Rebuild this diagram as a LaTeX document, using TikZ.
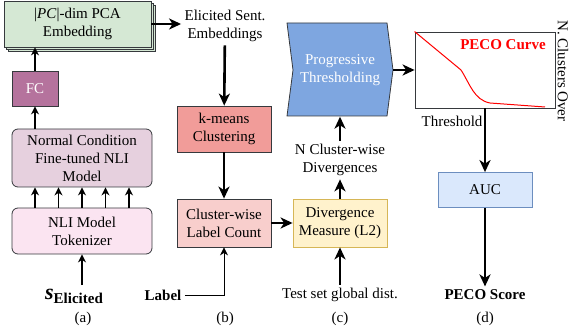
\documentclass[tikz,border=0pt]{standalone}
\usepackage{fontspec}
\setmainfont{Liberation Serif}
\usetikzlibrary{arrows.meta}

\definecolor{boxline}{HTML}{36393D}
\definecolor{pcagreen}{HTML}{D5E8D4}
\definecolor{fcpurple}{HTML}{B5739D}
\definecolor{nlipurple}{HTML}{E6D0DE}
\definecolor{tokpink}{HTML}{FBE4F1}
\definecolor{kmred}{HTML}{F19C99}
\definecolor{clwred}{HTML}{F8CECC}
\definecolor{divyellow}{HTML}{FFF2CC}
\definecolor{divline}{HTML}{D6B656}
\definecolor{progblue}{HTML}{7EA6E0}
\definecolor{aucblue}{HTML}{DAE8FC}
\definecolor{aucline}{HTML}{6C8EBF}

\begin{document}
\begin{tikzpicture}[x=1pt,y=-1pt,
    every node/.style={font=\fontsize{15}{18}\selectfont,align=center},
    box/.style={draw=boxline,line width=0.8pt,minimum width=94pt,inner sep=0pt},
    bigarrow/.style={line width=2.6pt,-{Stealth[length=12pt,width=11pt,inset=3.5pt]}},
    smallarrow/.style={line width=1.6pt,-{Stealth[length=8pt,width=8pt,inset=2.5pt]}}]
  \useasboundingbox (0,0) rectangle (570,331);

  % (a)
  \foreach \d in {4,2} {
    \draw[fill=pcagreen,draw=boxline,line width=0.8pt] (4+\d,1+\d) rectangle (151+\d,47+\d);
  }
  \node[box,fill=pcagreen,minimum width=147pt,minimum height=46pt] (pca) at (77.5,24) {|\textit{PC}|-dim PCA\\Embedding};
  \node[box,fill=fcpurple,text=white,minimum width=46pt,minimum height=35pt] (fc) at (35,88.5) {FC};
  \node[box,rounded corners=6pt,fill=nlipurple,minimum width=140pt,minimum height=58pt] (nli) at (82,158) {Normal Condition\\Fine-tuned NLI\\Model};
  \node[box,rounded corners=6pt,fill=tokpink,minimum width=140pt,minimum height=46pt] (tok) at (82,231) {NLI Model\\Tokenizer};
  \node (sel) at (74,296) {\textbf{{\fontsize{22}{22}\selectfont\textit{s}}\raisebox{-4pt}{Elicited}}};
  \node (capa) at (83,319) {(a)};

  \draw[smallarrow] (sel.north -| tok.south) -- (tok.south);
  \foreach \x in {35,58.5,82,105.5,129} {
    \draw[smallarrow] (tok.north -| \x,0) -- (nli.south -| \x,0);
  }
  \draw[smallarrow] (nli.north -| fc.south) -- (fc.south);
  \draw[smallarrow] (fc) -- (pca.south -| fc.north);

  % (b)
  \node (emb) at (225,26) {Elicited Sent.\\Embeddings};
  \node[box,fill=kmred,minimum height=46pt] (km) at (224,129) {k-means\\Clustering};
  \node[box,fill=clwred,minimum height=48pt] (clw) at (224,223) {Cluster-wise\\Label Count};
  \node (lbl) at (163,295) {\textbf{Label}};
  \node (capb) at (225,319) {(b)};

  \draw[bigarrow] (pca.east) -- (emb.west |- pca.east);
  \draw[bigarrow] (emb) -- (km);
  \draw[bigarrow] (km) -- (clw);
  \draw[line width=0.9pt,-{Stealth[length=8pt,width=8pt,inset=2.5pt]}] (lbl.east) -| (clw.south);

  % (c)
  \draw[fill=progblue,draw=boxline,line width=0.8pt] (287,23) -- (387,23) -- (393,70) -- (387,116) -- (287,116) -- (293,70) -- cycle;
  \node[minimum width=106pt,minimum height=93pt,inner sep=0pt,text=white] (prog) at (340,70) {Progressive\\Thresholding};
  \node (ncd) at (340,160) {N Cluster-wise\\Divergences};
  \node[box,draw=divline,fill=divyellow,minimum height=48pt] (div) at (340,223) {Divergence\\Measure (L2)};
  \node (test) at (340,295) {Test set global dist.};
  \node (capc) at (340,319) {(c)};

  \draw[bigarrow] (clw) -- (div);
  \draw[bigarrow] (test) -- (div);
  \draw[bigarrow] (div) -- (ncd);
  \draw[bigarrow] (ncd) -- (prog.south);

  % (d)
  \node[draw=boxline,line width=0.8pt,minimum width=140pt,minimum height=76pt,inner sep=0pt] (plot) at (485,70) {};
  \draw[red,line width=1pt] (plot.north west) -- (461,70) .. controls (470,84) and (474,100) .. (490,103) -- (545,107);
  \node[text=red] (peco) at (503,45) {\textbf{PECO Curve}};
  \node[rotate=-90] (ylab) at (563,71) {N. Clusters Over};
  \node (xlab) at (452,121) {Threshold};
  \node[box,draw=aucline,fill=aucblue,minimum height=35pt] (auc) at (485,190) {AUC};
  \node (score) at (485,295) {\textbf{PECO Score}};
  \node (capd) at (485,319) {(d)};

  \draw[bigarrow] (prog.east) -- (plot.west);
  \draw[bigarrow] (plot) -- (auc);
  \draw[bigarrow] (auc) -- (score);
\end{tikzpicture}
\end{document}
